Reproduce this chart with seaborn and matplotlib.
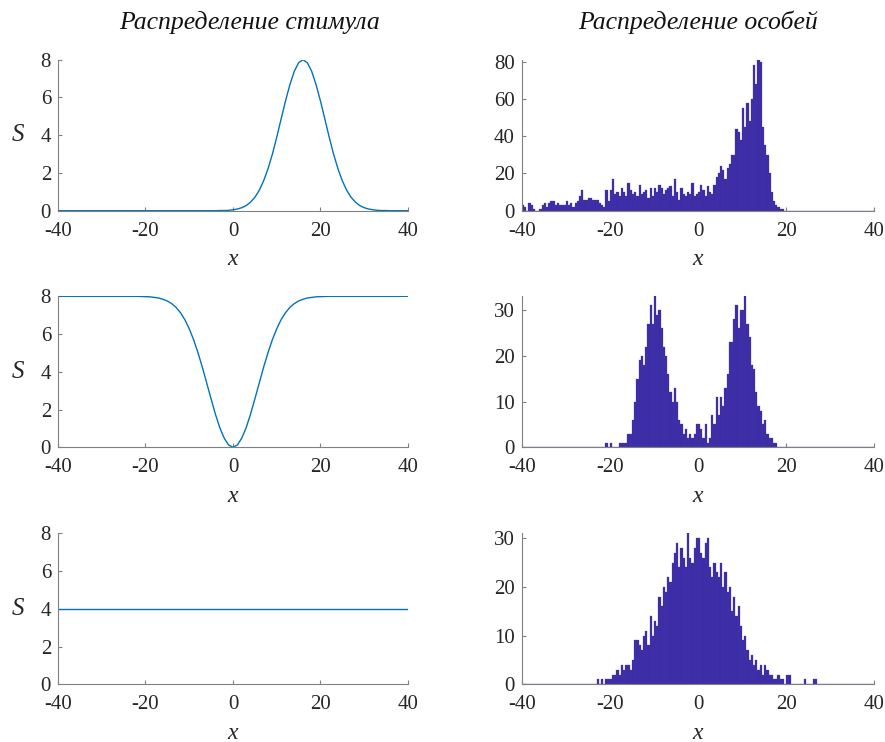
import numpy as np
import pandas as pd
import matplotlib
matplotlib.use('Agg')
import matplotlib.pyplot as plt
import seaborn as sns

# --- stimulus curves at integer x from -40 to 40 ---
x_grid = list(range(-40, 41))

stim_shifted = ([0.0] * 36 +
                [0.00, 0.01, 0.01, 0.02, 0.05, 0.09, 0.16, 0.27, 0.45, 0.71,
                 1.08, 1.58, 2.22, 2.99, 3.89, 4.86, 5.81, 6.67, 7.38, 7.84,
                 8.00, 7.84, 7.38, 6.67, 5.81, 4.86, 3.89, 2.99, 2.22, 1.58,
                 1.08, 0.71, 0.45, 0.27, 0.16, 0.09, 0.05, 0.02, 0.01, 0.01] +
                [0.0] * 5)

stim_dip_half = [0.00, 0.12, 0.48, 1.03, 1.74, 2.56, 3.40, 4.24, 5.01, 5.70,
                 6.28, 6.76, 7.13, 7.41, 7.61, 7.75, 7.84, 7.91, 7.94, 7.97,
                 7.98, 7.99] + [8.00] * 19
stim_dip = stim_dip_half[:0:-1] + stim_dip_half

stim_flat = [4.0] * 81

# --- population histograms, counts per 0.5-wide bin from -40 to 40 ---
bin_edges = np.arange(-40, 40.25, 0.5)
bin_centers = (bin_edges[:-1] + bin_edges[1:]) / 2

counts_shifted = [
    3, 2, 0, 4, 3, 1, 0, 0, 1, 3,         # -40 .. -35
    4, 2, 4, 5, 5, 3, 4, 3, 3, 3,         # -35 .. -30
    5, 3, 4, 2, 4, 5, 8, 11, 6, 6,        # -30 .. -25
    7, 7, 6, 6, 6, 4, 3, 2, 11, 5,        # -25 .. -20
    11, 17, 9, 10, 8, 12, 10, 8, 15, 11,  # -20 .. -15
    9, 10, 8, 14, 9, 10, 11, 7, 12, 8,    # -15 .. -10
    12, 10, 14, 12, 9, 11, 12, 13, 8, 17, # -10 .. -5
    10, 6, 12, 9, 8, 10, 9, 15, 8, 9,     #  -5 .. 0
    10, 14, 11, 8, 13, 10, 9, 14, 18, 20, #   0 .. 5
    24, 22, 17, 23, 25, 30, 30, 44, 42, 38,  # 5 .. 10
    55, 45, 58, 48, 60, 78, 68, 81, 80, 45,  # 10 .. 15
    35, 30, 20, 10, 5, 3, 2, 1, 1, 0,     #  15 .. 20
] + [0] * 40

counts_dip = [0] * 30 + [
    0, 0, 0, 0, 0, 0, 0, 0, 1, 0,         # -25 .. -20
    1, 0, 0, 0, 1, 1, 1, 1, 3, 3,         # -20 .. -15
    6, 10, 15, 19, 20, 18, 22, 27, 31, 27,   # -15 .. -10
    33, 29, 30, 26, 22, 20, 16, 12, 10, 13,  # -10 .. -5
    10, 6, 5, 3, 4, 2, 3, 2, 3, 5,        #  -5 .. 0
    5, 4, 2, 5, 1, 2, 7, 5, 11, 7,        #   0 .. 5
    11, 9, 13, 16, 23, 23, 28, 31, 26, 30,   # 5 .. 10
    30, 33, 27, 24, 18, 17, 12, 9, 8, 5,  #  10 .. 15
    6, 3, 2, 2, 1, 1, 0, 0, 0, 0,         #  15 .. 20
] + [0] * 40

counts_flat = [0] * 30 + [
    0, 0, 0, 0, 1, 0, 1, 0, 1, 1,         # -25 .. -20
    1, 2, 2, 3, 2, 4, 3, 4, 4, 3,         # -20 .. -15
    5, 9, 9, 8, 7, 10, 11, 8, 14, 10,     # -15 .. -10
    13, 12, 18, 16, 20, 19, 22, 21, 25, 27,  # -10 .. -5
    29, 24, 28, 26, 24, 31, 26, 25, 28, 30,  #  -5 .. 0
    30, 27, 26, 29, 30, 24, 22, 25, 23, 22,  #   0 .. 5
    25, 20, 23, 19, 20, 15, 18, 14, 16, 12,  #   5 .. 10
    9, 10, 7, 5, 6, 4, 5, 3, 4, 2,        #  10 .. 15
    4, 3, 2, 2, 1, 1, 2, 1, 1, 0,         #  15 .. 20
    2, 2, 0, 0, 0, 0, 0, 0, 1, 0,         #  20 .. 25
    0, 0, 1, 1, 0, 0, 0, 0, 0, 0,         #  25 .. 30
] + [0] * 20

stimuli = [stim_shifted, stim_dip, stim_flat]
populations = [counts_shifted, counts_dip, counts_flat]
pop_yticks = [[0, 20, 40, 60, 80], [0, 10, 20, 30], [0, 10, 20, 30]]

sns.set_style('ticks')
plt.rcParams['font.family'] = ['Liberation Serif', 'DejaVu Serif']

spine_col = '#808080'
text_col = '#262626'
line_col = '#0072BD'
bar_col = '#3b2ba5'

fig = plt.figure(figsize=(8.85, 7.42), dpi=100)

row_bottoms = [0.716, 0.3972, 0.0778]
row_h = 0.2035
left_x, left_w = 0.0655, 0.3955
right_x, right_w = 0.5895, 0.3984


def style_axis(ax):
    sns.despine(ax=ax)
    for side in ['left', 'bottom']:
        ax.spines[side].set_color(spine_col)
        ax.spines[side].set_linewidth(0.8)
    ax.tick_params(direction='in', length=3, width=0.8, color=spine_col,
                   labelcolor=text_col, labelsize=15)
    ax.tick_params(axis='x', pad=8)
    ax.tick_params(axis='y', pad=5)
    ax.set_xlim(-40, 40)
    ax.set_xticks([-40, -20, 0, 20, 40])
    ax.set_xticklabels(['-40', '-20', '0', '20', '40'])
    ax.set_xlabel('x', fontsize=17, fontstyle='italic', color=text_col, labelpad=6)


for i in range(3):
    ax = fig.add_axes([left_x, row_bottoms[i], left_w, row_h])
    df = pd.DataFrame({'x': x_grid, 'S': stimuli[i]})
    sns.lineplot(data=df, x='x', y='S', ax=ax, color=line_col, linewidth=1.0)
    style_axis(ax)
    ax.set_ylim(0, 8)
    ax.set_yticks([0, 2, 4, 6, 8])
    ax.set_ylabel('S', fontsize=18, fontstyle='italic', color=text_col,
                  rotation=0, labelpad=16, va='center')
    if i == 0:
        ax.set_title('Распределение стимула', fontsize=18.5, fontstyle='italic',
                     color='#111111', pad=22, x=0.546)

    ax = fig.add_axes([right_x, row_bottoms[i], right_w, row_h])
    hdf = pd.DataFrame({'x': bin_centers, 'n': populations[i]})
    sns.histplot(data=hdf, x='x', weights='n', bins=list(bin_edges), ax=ax,
                 color=bar_col, alpha=1.0, edgecolor='#4a3db3', linewidth=0.2)
    style_axis(ax)
    ax.set_ylim(0, max(populations[i]))
    ax.set_yticks(pop_yticks[i])
    ax.set_ylabel('')
    if i == 0:
        ax.set_title('Распределение особей', fontsize=18.5, fontstyle='italic',
                     color='#111111', pad=22)

fig.savefig('out.png', dpi=100)
